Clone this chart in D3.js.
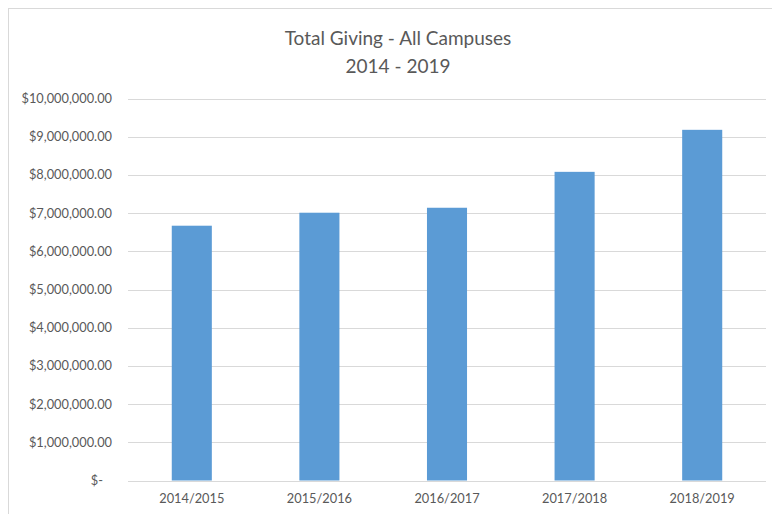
<!DOCTYPE html>
<html>
<head>
<meta charset="utf-8">
<script src="https://cdn.jsdelivr.net/npm/d3@7"></script>
<style>
  body { margin: 0; background: #fff; }
  svg { display: block; }
  text { font-family: Lato, "Open Sans", sans-serif; fill: #595959; }
</style>
</head>
<body>
<svg id="chart"></svg>
<script>
// values
var years = ["2014/2015", "2015/2016", "2016/2017", "2017/2018", "2018/2019"];
var giving = [6670000, 7010000, 7140000, 8080000, 9180000];
var yTicks = [0, 1000000, 2000000, 3000000, 4000000, 5000000, 6000000, 7000000, 8000000, 9000000, 10000000];
var titleLines = ["Total Giving - All Campuses", "2014 - 2019"];

var width = 772, height = 514;
var svg = d3.select("#chart").attr("width", width).attr("height", height);

// chart frame (right and bottom edges fall outside the shot)
svg.append("rect")
  .attr("x", 8.5).attr("y", 8.5)
  .attr("width", 790).attr("height", 540)
  .attr("fill", "#fff").attr("stroke", "#d9d9d9");

var plotL = 128, plotR = 766, plotT = 98.5, plotB = 480.5;

var x = d3.scaleBand().domain(years).range([plotL, plotR])
  .paddingInner(0.686).paddingOuter(0.343);
var y = d3.scaleLinear().domain([0, 10000000]).range([plotB, plotT]);

var fmt = d3.format("$,.2f");

// gridlines
svg.append("g").selectAll("line").data(yTicks).join("line")
  .attr("x1", plotL).attr("x2", plotR)
  .attr("y1", function(d){ return Math.round(y(d)) + 0.5; })
  .attr("y2", function(d){ return Math.round(y(d)) + 0.5; })
  .attr("stroke", "#d9d9d9").attr("stroke-width", 1);

// y labels
svg.append("g").selectAll("text").data(yTicks).join("text")
  .attr("x", function(d){ return d === 0 ? 103 : 112; })
  .attr("y", function(d){ return y(d); })
  .attr("dy", "0.35em")
  .attr("text-anchor", "end")
  .style("font-size", "12.8px")
  .text(function(d){ return d === 0 ? "$-" : fmt(d); });

// bars
svg.append("g").selectAll("rect").data(giving).join("rect")
  .attr("x", function(d, i){ return x(years[i]); })
  .attr("y", function(d){ return y(d); })
  .attr("width", x.bandwidth())
  .attr("height", function(d){ return y(0) - y(d); })
  .attr("fill", "#5b9bd5");

// x labels
svg.append("g").selectAll("text").data(years).join("text")
  .attr("x", function(d){ return x(d) + x.bandwidth() / 2; })
  .attr("y", 499)
  .attr("dy", "0.35em")
  .attr("text-anchor", "middle")
  .style("font-size", "12.8px")
  .text(function(d){ return d; });

// title
svg.append("g").selectAll("text").data(titleLines).join("text")
  .attr("x", 398)
  .attr("y", function(d, i){ return 38 + i * 28; })
  .attr("dy", "0.35em")
  .attr("text-anchor", "middle")
  .style("font-size", "19px")
  .text(function(d){ return d; });
</script>
</body>
</html>
